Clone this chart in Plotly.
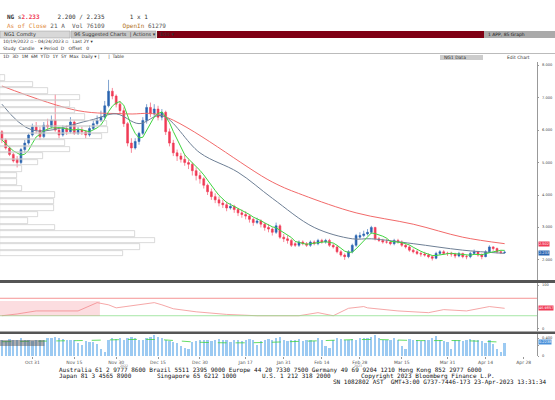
import plotly.graph_objects as go
import pandas as pd

# trading days Oct 19 2022 .. May 3 2023 (candles up to Apr 21)
days = pd.bdate_range("2022-10-19", "2023-05-03")

opens = [5.95, 5.70, 5.45, 5.25, 5.10, 5.00, 5.40, 5.60, 5.85,
         6.10, 6.00, 5.80, 6.15, 6.10, 6.30, 6.00, 5.85, 6.05, 5.95, 6.25, 5.90, 6.00, 5.95, 5.85, 6.05, 6.20, 6.30, 6.40, 6.75, 7.20, 7.05,
         6.80, 6.60, 6.20, 5.60, 5.45, 5.65, 5.90, 6.30, 6.70, 6.50, 6.65, 6.40, 6.55, 5.95, 5.60, 5.30, 5.20, 5.10, 5.00, 4.95, 4.75, 4.60,
         4.50, 4.30, 4.10, 3.95, 3.85, 3.75, 3.70, 3.60, 3.65, 3.55, 3.45, 3.40, 3.35, 3.25, 3.15, 3.20, 3.10, 3.00, 2.95, 2.85, 3.05, 2.70,
         2.65, 2.60, 2.50, 2.45, 2.55, 2.50, 2.45, 2.55, 2.50, 2.60, 2.55, 2.60, 2.45, 2.40, 2.25, 2.15, 2.10, 2.25, 2.45, 2.70,
         2.75, 2.80, 2.85, 3.00, 2.65, 2.60, 2.55, 2.55, 2.50, 2.60, 2.55, 2.45, 2.40, 2.30, 2.25, 2.20, 2.18, 2.15, 2.10, 2.05, 2.20, 2.25, 2.20,
         2.20, 2.18, 2.12, 2.20, 2.10, 2.10, 2.20, 2.25, 2.15, 2.10, 2.25, 2.40, 2.35, 2.25, 2.23]
closes = [5.70, 5.45, 5.25, 5.05, 5.00, 5.40, 5.60, 5.85, 6.10,
          6.00, 5.80, 6.15, 6.10, 6.30, 6.00, 5.85, 6.05, 5.95, 6.25, 5.90, 6.00, 5.95, 5.85, 6.05, 6.20, 6.30, 6.40, 6.75, 7.20, 7.05, 6.80,
          6.60, 6.20, 5.60, 5.45, 5.65, 5.90, 6.30, 6.70, 6.50, 6.65, 6.40, 6.55, 5.95, 5.60, 5.30, 5.20, 5.10, 5.00, 4.95, 4.75, 4.60, 4.50,
          4.30, 4.10, 3.95, 3.85, 3.75, 3.70, 3.60, 3.65, 3.55, 3.45, 3.40, 3.35, 3.25, 3.15, 3.20, 3.10, 3.00, 2.95, 2.85, 3.05, 2.70, 2.65,
          2.60, 2.45, 2.45, 2.55, 2.50, 2.45, 2.55, 2.50, 2.60, 2.55, 2.60, 2.45, 2.40, 2.25, 2.15, 2.10, 2.25, 2.45, 2.75, 2.75,
          2.80, 2.85, 3.00, 2.65, 2.60, 2.55, 2.55, 2.50, 2.60, 2.55, 2.45, 2.40, 2.30, 2.25, 2.20, 2.18, 2.15, 2.10, 2.05, 2.20, 2.25, 2.20, 2.20,
          2.18, 2.12, 2.20, 2.10, 2.10, 2.20, 2.25, 2.15, 2.10, 2.25, 2.40, 2.35, 2.25, 2.23, 2.233]
highs = [6.00, 5.75, 5.50, 5.30, 5.20, 5.45, 5.70, 5.90, 6.20,
         6.25, 6.10, 6.25, 6.35, 6.45, 7.10, 6.10, 6.15, 6.15, 6.40, 6.30, 6.10, 6.10, 6.00, 6.15, 6.30, 6.45, 6.60, 6.90, 7.55, 7.30, 7.10,
         6.90, 6.70, 6.25, 5.75, 5.75, 5.95, 6.40, 6.80, 6.85, 6.80, 6.75, 6.65, 6.60, 6.05, 5.70, 5.40, 5.30, 5.25, 5.10, 5.00, 4.85, 4.70,
         4.55, 4.35, 4.20, 4.05, 3.95, 3.85, 3.80, 3.75, 3.70, 3.60, 3.55, 3.50, 3.40, 3.30, 3.30, 3.25, 3.15, 3.10, 3.00, 3.15, 3.10, 2.80,
         2.75, 2.65, 2.55, 2.60, 2.60, 2.55, 2.60, 2.60, 2.65, 2.65, 2.65, 2.65, 2.50, 2.45, 2.30, 2.20, 2.30, 2.50, 2.80, 2.85,
         2.90, 2.95, 3.05, 3.02, 2.70, 2.65, 2.65, 2.60, 2.65, 2.65, 2.60, 2.50, 2.45, 2.35, 2.30, 2.25, 2.25, 2.20, 2.15, 2.25, 2.30, 2.30, 2.25,
         2.25, 2.22, 2.25, 2.22, 2.15, 2.25, 2.32, 2.28, 2.20, 2.30, 2.45, 2.42, 2.38, 2.30, 2.28]
lows = [5.60, 5.40, 5.20, 5.00, 4.85, 4.95, 5.30, 5.55, 5.80,
        5.90, 5.70, 5.75, 6.00, 6.05, 5.95, 5.75, 5.80, 5.85, 5.90, 5.85, 5.85, 5.85, 5.75, 5.80, 6.00, 6.15, 6.25, 6.35, 6.70, 6.95, 6.70,
        6.50, 6.10, 5.50, 5.30, 5.40, 5.55, 5.85, 6.20, 6.40, 6.40, 6.30, 6.30, 5.85, 5.50, 5.20, 5.05, 5.00, 4.90, 4.80, 4.60, 4.45, 4.35,
        4.20, 4.00, 3.85, 3.75, 3.65, 3.60, 3.50, 3.55, 3.45, 3.35, 3.30, 3.25, 3.15, 3.05, 3.10, 3.00, 2.90, 2.85, 2.75, 2.80, 2.65, 2.55,
        2.50, 2.40, 2.40, 2.40, 2.45, 2.40, 2.40, 2.45, 2.45, 2.50, 2.50, 2.40, 2.35, 2.20, 2.10, 2.00, 2.05, 2.20, 2.40, 2.65,
        2.70, 2.75, 2.80, 2.60, 2.55, 2.50, 2.50, 2.45, 2.45, 2.50, 2.40, 2.35, 2.25, 2.20, 2.15, 2.10, 2.10, 2.05, 1.98, 2.02, 2.15, 2.15, 2.12,
        2.10, 2.05, 2.08, 2.05, 2.02, 2.05, 2.15, 2.10, 2.02, 2.08, 2.22, 2.28, 2.20, 2.18, 2.19]
volumes = [150, 140, 155, 145, 150, 160, 150, 145, 140,
           150, 145, 150, 160, 165, 170, 160, 155, 150, 150, 145, 120, 100, 140, 130, 125, 110, 60, 40, 145, 160, 155,
           160, 150, 165, 170, 160, 150, 145, 165, 170, 190, 175, 160, 150, 140, 130, 120, 90, 70, 60, 130, 140, 145,
           150, 145, 140, 150, 155, 150, 145, 130, 150, 145, 140, 150, 155, 145, 100, 140, 150, 155, 150, 160, 170, 150,
           140, 145, 150, 155, 140, 150, 145, 140, 160, 150, 90, 70, 150, 160, 155, 150, 145, 155, 150, 160,
           165, 160, 170, 190, 160, 150, 145, 150, 160, 145, 90, 60, 155, 150, 145, 140, 150, 150, 160, 185, 150, 140, 130,
           60, 150, 145, 140, 150, 155, 150, 145, 140, 120, 150, 110, 60, 40, 120]
vol_ma_idx = [0, 20, 40, 52, 64, 80, 96, 110, 120, 132]
vol_ma = [130, 140, 150, 125, 120, 135, 150, 140, 140, 125]

red_ma_idx = [0, 20, 33, 42, 71, 79, 93, 108, 121, 132]
red_ma = [7.36, 6.60, 6.50, 6.45, 4.40, 4.00, 3.45, 3.10, 2.70, 2.50]
gray_ma_idx = [0, 8, 23, 30, 36, 42, 52, 62, 71, 82, 92, 97, 108, 121, 132]
gray_ma = [6.80, 6.00, 6.30, 6.50, 6.20, 6.45, 5.30, 4.70, 3.90, 3.00, 2.65, 2.65, 2.50, 2.30, 2.20]
rsi_idx = [0, 4, 9, 20, 25, 28, 30, 36, 40, 42, 45, 51, 59, 67, 78, 83, 87, 91, 95, 96, 104, 112, 116, 122, 128, 132]
rsi = [30, 34, 41, 41, 60, 55, 48, 55, 60, 55, 46, 39, 33, 30, 30, 37, 30, 47, 51, 48, 41, 37, 44, 41, 51, 47]

profile_px = [7.6, 7.4, 7.2, 7.0, 6.8, 6.6, 6.4, 6.2, 6.0, 5.8, 5.6, 5.4, 5.2, 5.0, 4.8, 4.6, 4.4, 4.2, 4.0, 3.8,
              3.6, 3.4, 3.2, 3.0, 2.8, 2.6, 2.4, 2.2]
profile_w = [5, 33, 48, 80, 70, 75, 85, 107, 108, 102, 65, 70, 43, 38, 22, 17, 17, 22, 55, 54,
             54, 38, 28, 55, 135, 155, 140, 123]

price_ticks = [2, 3, 4, 5, 6, 7, 8]
tick_dates = ["2022-10-31", "2022-11-15", "2022-11-30", "2022-12-15", "2022-12-30", "2023-01-17", "2023-01-31",
              "2023-02-14", "2023-02-28", "2023-03-15", "2023-03-31", "2023-04-14", "2023-04-28"]
tick_text = ["Oct 31", "Nov 15", "Nov 30", "Dec 15", "Dec 30", "Jan 17", "Jan 31",
             "Feb 14", "Feb 28", "Mar 15", "Mar 31", "Apr 14", "Apr 28"]

idx = list(range(len(closes)))
tick_idx = [days.get_loc(pd.Timestamp(d)) for d in tick_dates]
green_ma = pd.Series(closes).rolling(5, min_periods=1).mean()

fig = go.Figure()
fig.add_trace(go.Bar(y=profile_px, x=profile_w, orientation="h", xaxis="x4", yaxis="y",
                     marker=dict(color="rgba(255,255,255,0)", line=dict(color="#c8c8c8", width=0.7)),
                     width=0.17, hoverinfo="skip"))
fig.add_trace(go.Candlestick(x=idx, open=opens, high=highs, low=lows, close=closes, xaxis="x", yaxis="y",
                             increasing=dict(line=dict(color="#2a64b0", width=0.6), fillcolor="#2a64b0"),
                             decreasing=dict(line=dict(color="#f03a55", width=0.6), fillcolor="#f03a55"),
                             whiskerwidth=0))
fig.add_trace(go.Scatter(x=red_ma_idx, y=red_ma, mode="lines", line=dict(color="#f26a6a", width=1, shape="spline"),
                         xaxis="x", yaxis="y"))
fig.add_trace(go.Scatter(x=gray_ma_idx, y=gray_ma, mode="lines", line=dict(color="#6e7f95", width=1, shape="spline"),
                         xaxis="x", yaxis="y"))
fig.add_trace(go.Scatter(x=idx, y=green_ma, mode="lines", line=dict(color="#3fd43f", width=1),
                         xaxis="x", yaxis="y"))
fig.add_trace(go.Scatter(x=rsi_idx, y=rsi, mode="lines", line=dict(color="#f29090", width=0.8),
                         xaxis="x2", yaxis="y2"))
fig.add_trace(go.Bar(x=idx, y=volumes, marker=dict(color="#9ccaf2", line_width=0), width=0.6,
                     xaxis="x3", yaxis="y3"))
fig.add_trace(go.Scatter(x=vol_ma_idx, y=vol_ma, mode="lines", line=dict(color="#3fd43f", width=0.8, dash="dash", shape="spline"),
                         xaxis="x3", yaxis="y3"))

xr = [-0.5, len(days) - 0.5]
xd = [0, 537 / 555]
common_x = dict(range=xr, domain=xd, showgrid=False, zeroline=False, tickvals=tick_idx, ticktext=tick_text,
                ticks="outside", ticklen=2, tickcolor="#999")
yax = dict(side="right", showgrid=False, zeroline=False, ticks="outside", ticklen=1, tickcolor="#999",
           showline=True, linecolor="#999", linewidth=0.8, showticklabels=False)
fig.update_layout(
    width=555, height=400, margin=dict(l=0, r=0, t=0, b=0), paper_bgcolor="white", plot_bgcolor="white",
    showlegend=False, bargap=0,
    font=dict(family="DejaVu Sans", size=5, color="#333"),
    xaxis=dict(**common_x, anchor="y", showticklabels=False, rangeslider=dict(visible=False)),
    xaxis2=dict(**common_x, anchor="y2", showticklabels=False),
    xaxis3=dict(**common_x, anchor="y3", showticklabels=True, tickfont=dict(size=4.5, color="#555")),
    xaxis4=dict(range=[0, 537], domain=xd, overlaying="x", visible=False),
    yaxis=dict(**yax, domain=[0.3, 0.845], range=[1.38, 8.1], tickvals=price_ticks),
    yaxis2=dict(**yax, domain=[0.1725, 0.2925], range=[-5, 105], anchor="x2", tickvals=[0, 100]),
    yaxis3=dict(**yax, domain=[0.11, 0.165], range=[0, 200], anchor="x3", tickvals=[0, 100, 160]),
)

shapes = [
    dict(type="line", xref="x2", yref="y2", x0=xr[0], x1=xr[1], y0=70, y1=70, line=dict(color="#f27a7a", width=0.8)),
    dict(type="line", xref="x2", yref="y2", x0=xr[0], x1=xr[1], y0=30, y1=30, line=dict(color="#8fe08f", width=0.8)),
    dict(type="rect", xref="paper", yref="paper", x0=0, x1=1, y0=1 - 283 / 400, y1=1 - 280 / 400,
         fillcolor="#555", line_width=0),
    dict(type="rect", xref="paper", yref="paper", x0=0, x1=1, y0=1 - 334 / 400, y1=1 - 331.5 / 400,
         fillcolor="#555", line_width=0),
    dict(type="rect", xref="paper", yref="paper", x0=0, x1=0.18, y0=1 - 316 / 400, y1=1 - 301 / 400,
         fillcolor="rgba(245,120,130,0.25)", line_width=0),
    dict(type="rect", xref="paper", yref="paper", x0=0, x1=0.08, y0=1 - 346 / 400, y1=1 - 340 / 400,
         fillcolor="rgba(90,90,90,0.5)", line_width=0),
    # toolbar
    dict(type="rect", xref="paper", yref="paper", x0=0, x1=70 / 555, y0=1 - 38 / 400, y1=1 - 31 / 400,
         fillcolor="#d8d8d8", line=dict(color="#999", width=0.5)),
    dict(type="rect", xref="paper", yref="paper", x0=71 / 555, x1=156 / 555, y0=1 - 38 / 400, y1=1 - 31 / 400,
         fillcolor="#c8c8c8", line=dict(color="#999", width=0.5)),
    dict(type="rect", xref="paper", yref="paper", x0=157 / 555, x1=484 / 555, y0=1 - 38 / 400, y1=1 - 31 / 400,
         fillcolor="#7f0014", line_width=0),
    dict(type="rect", xref="paper", yref="paper", x0=484 / 555, x1=1, y0=1 - 38 / 400, y1=1 - 31 / 400,
         fillcolor="#aaa", line_width=0),
    dict(type="line", xref="paper", yref="paper", x0=0, x1=1, y0=1 - 53.5 / 400, y1=1 - 53.5 / 400,
         line=dict(color="#bbb", width=1)),
    dict(type="rect", xref="paper", yref="paper", x0=440 / 555, x1=483 / 555, y0=1 - 60 / 400, y1=1 - 55 / 400,
         fillcolor="#ccc", line_width=0),
]
fig.update_layout(shapes=shapes)

mono = "DejaVu Sans Mono"
foot = dict(size=6, family=mono, color="#111")
ann = [
    dict(x=5 / 555, y=1 - 17 / 400, text="<b>NG</b> s<span style='color:#f03a55'><b>2.233</b></span>     2.200 / 2.235       1 x 1",
         font=dict(size=6, family=mono, color="#333")),
    dict(x=5 / 555, y=1 - 26 / 400, text="<span style='color:#e08a3a'>As of Close</span> 21 A  Vol 76109     <span style='color:#b07020'>OpenIn</span> 61279",
         font=dict(size=6, family=mono, color="#555")),
    dict(x=2 / 555, y=1 - 34.5 / 400, text="NG1 Comdty", font=dict(size=5, color="#333")),
    dict(x=72 / 555, y=1 - 34.5 / 400, text="96 Suggested Charts  | Actions ▾ | Edit ▾", font=dict(size=5, color="#333")),
    dict(x=486 / 555, y=1 - 34.5 / 400, text="1 APP, 85 Graph", font=dict(size=4.5, color="#222")),
    dict(x=1 / 555, y=1 - 42 / 400, text="10/19/2022 ▫ - 04/24/2023 ▫   Last 2Y ▾", font=dict(size=4.5, color="#333")),
    dict(x=1 / 555, y=1 - 48 / 400, text="Study  Candle    ▾ Period  D   Offset   0", font=dict(size=4.5, color="#333")),
    dict(x=1 / 555, y=1 - 57 / 400, text="1D  3D  1M  6M  YTD  1Y  5Y  Max  Daily ▾ |      |  Table", font=dict(size=4.5, color="#333")),
    dict(x=442 / 555, y=1 - 57.5 / 400, text="NG1 Data", font=dict(size=4.5, color="#333")),
    dict(x=505 / 555, y=1 - 57.5 / 400, text="Edit Chart", font=dict(size=4.5, color="#333")),
    dict(x=118 / 555, y=1 - 366 / 400, text="2022", font=dict(size=3.2, color="#888")),
    dict(x=352 / 555, y=1 - 366 / 400, text="2023", font=dict(size=3.2, color="#888")),
    dict(x=57 / 555, y=1 - 369.5 / 400,
         text="Australia 61 2 9777 8600 Brazil 5511 2395 9000 Europe 44 20 7330 7500 Germany 49 69 9204 1210 Hong Kong 852 2977 6000",
         font=foot),
    dict(x=57 / 555, y=1 - 375.5 / 400, text="Japan 81 3 4565 8900", font=foot),
    dict(x=155 / 555, y=1 - 375.5 / 400, text="Singapore 65 6212 1000", font=foot),
    dict(x=260 / 555, y=1 - 375.5 / 400, text="U.S. 1 212 318 2000", font=foot),
    dict(x=497 / 555, y=1 - 375.5 / 400, text="Copyright 2023 Bloomberg Finance L.P.", font=foot, xanchor="right"),
    dict(x=549 / 555, y=1 - 381.5 / 400, text="SN 1082802 AST  GMT+3:00 G737-7446-173 23-Apr-2023 13:31:34",
         font=foot, xanchor="right"),
]
# right axis labels
for v in price_ticks:
    ann.append(dict(x=540 / 555, y=v, yref="y", text=f"{v:.3f}", font=dict(size=3.6, color="#444")))
for v, t in [(100, "100"), (0, "0")]:
    ann.append(dict(x=540 / 555, y=v, yref="y2", text=t, font=dict(size=3.6, color="#444")))
for v, t in [(160, "0.400"), (0, "0")]:
    ann.append(dict(x=540 / 555, y=v, yref="y3", text=t, font=dict(size=3.6, color="#444")))
for a in ann:
    a.setdefault("xanchor", "left")
    a.setdefault("yref", "paper")
    a.update(xref="paper", showarrow=False, yanchor="middle")
tags = [("2.502", 2.50, "#f03a55", "y"), ("2.233", 2.20, "#2a64b0", "y"), ("46.9857", 47, "#f03a55", "y2")]
for t, v, c, ya in tags:
    ann.append(dict(x=538 / 555, xref="paper", y=v, yref=ya, text=t, showarrow=False, xanchor="left",
                    bgcolor=c, font=dict(size=3.5, color="white"), borderpad=0))
ann.append(dict(x=538 / 555, xref="paper", y=130, yref="y3", text="0.2238", showarrow=False, xanchor="left",
                bgcolor="#4a90d9", font=dict(size=3.5, color="white"), borderpad=0))
fig.update_layout(annotations=ann)

fig.write_html("out.html", config={"displayModeBar": False},
               post_script="document.body.style.margin='0';document.body.style.overflow='hidden';")
